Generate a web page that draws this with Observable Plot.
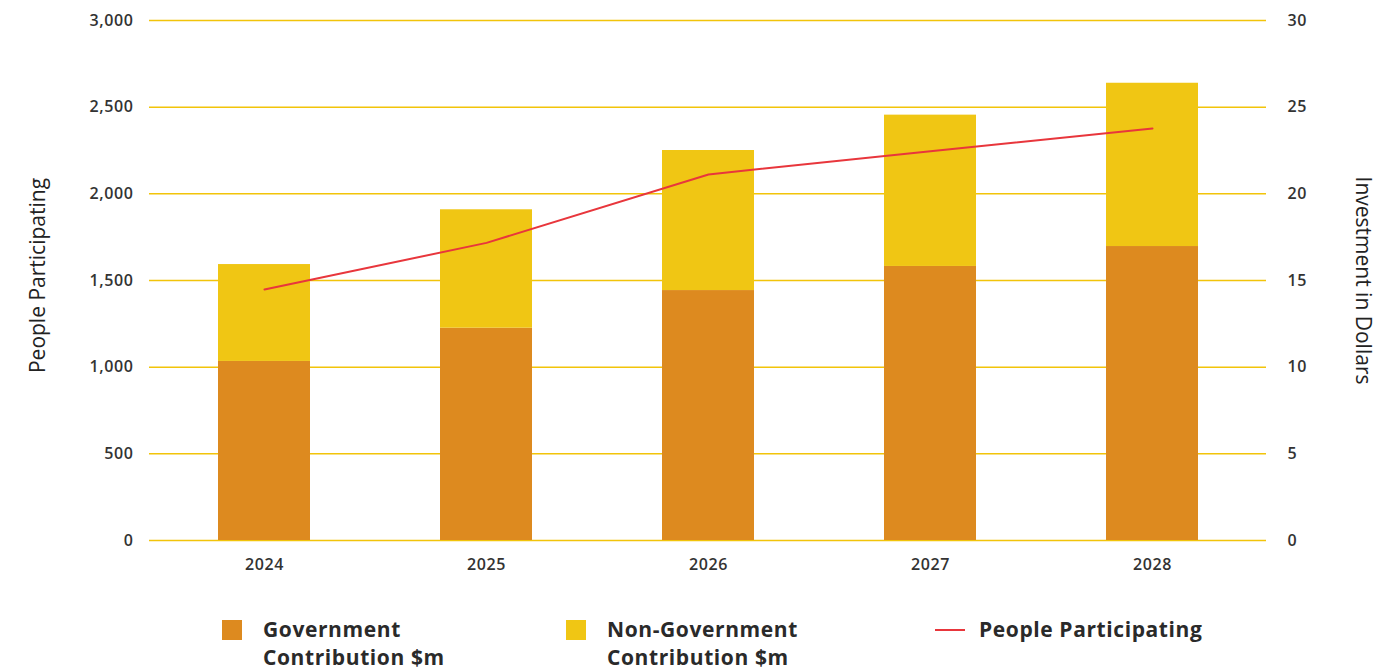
<!DOCTYPE html>
<html><head><meta charset="utf-8">
<script src="https://cdn.jsdelivr.net/npm/d3@7"></script>
<script src="https://cdn.jsdelivr.net/npm/@observablehq/plot@0.6"></script>
<style>
body{margin:0;background:#fff;font-family:"Open Sans",sans-serif;color:#2a2a2a;}
#chart svg{display:block;}
#chart svg g[aria-label="y-axis tick label"] text,
#chart svg g[aria-label="x-axis tick label"] text{letter-spacing:0.6px;}
#legend{position:relative;width:1400px;height:81px;}
.item{position:absolute;top:25px;display:flex;align-items:flex-start;}
.sw{width:20px;height:20px;margin-top:5px;margin-right:21px;}
.ln{width:30px;height:2px;margin-top:14px;margin-right:14px;}
.lab{font-weight:700;font-size:21px;line-height:28px;letter-spacing:0.6px;color:#2a2a2a;}
</style></head><body>
<div id="chart"></div>
<div id="legend"></div>
<script>
const years = ["2024","2025","2026","2027","2028"];
const government = [10.33, 12.25, 14.42, 15.81, 16.96];
const nonGovernment = [5.59, 6.83, 8.08, 8.73, 9.42];
const people = [1448, 1717, 2112, 2246, 2377];
const peopleTicks = [0, 500, 1000, 1500, 2000, 2500, 3000];
const investTicks = [0, 5, 10, 15, 20, 25, 30];
const seriesNames = ["Government Contribution $m", "Non-Government Contribution $m"];
const lineName = "People Participating";
const colors = ["#DD8A1F", "#F0C614"];
const lineColor = "#E8363C";
const gridColor = "#F2C40A";

// right axis (0-30) maps onto left axis (0-3000)
const ratio = peopleTicks[peopleTicks.length - 1] / investTicks[investTicks.length - 1];

const bars = [];
years.forEach((y, i) => {
  bars.push({year: y, series: seriesNames[0], value: government[i]});
  bars.push({year: y, series: seriesNames[1], value: nonGovernment[i]});
});
const lineData = years.map((y, i) => ({year: y, people: people[i]}));

const chart = Plot.plot({
  width: 1400,
  height: 590,
  marginTop: 20,
  marginBottom: 50,
  marginLeft: 149,
  marginRight: 134,
  style: {fontFamily: "'Open Sans', sans-serif", color: "#333", background: "#fff"},
  x: {type: "band", domain: years, paddingInner: 0.586, paddingOuter: 0.3},
  y: {domain: [0, 3000]},
  color: {domain: seriesNames, range: colors},
  marks: [
    Plot.gridY(peopleTicks, {stroke: gridColor, strokeOpacity: 1, strokeWidth: 1.5}),
    Plot.barY(bars, {x: "year", y: d => d.value * ratio, fill: "series"}),
    Plot.line(lineData, {x: "year", y: "people", stroke: lineColor, strokeWidth: 2}),
    Plot.axisY(peopleTicks, {anchor: "left", tickSize: 0, tickPadding: 16, tickFormat: d3.format(","), fontSize: 16, fontWeight: 600, label: null}),
    Plot.axisY(investTicks, {anchor: "right", y: d => d * ratio, text: d => String(d), tickSize: 0, tickPadding: 21, fontSize: 16, fontWeight: 600, label: null}),
    Plot.axisX({anchor: "bottom", tickSize: 0, tickPadding: 18, fontSize: 16, fontWeight: 600, label: null}),
    Plot.text(["People Participating"], {frameAnchor: "left", textAnchor: "middle", dx: -111, dy: -5, rotate: -90, fontSize: 21, fill: "#222"}),
    Plot.text(["Investment in Dollars"], {frameAnchor: "right", textAnchor: "middle", dx: 96, dy: 0, rotate: 90, fontSize: 21, fill: "#222"})
  ]
});
document.getElementById("chart").appendChild(chart);

const legend = document.getElementById("legend");
const items = [
  {left: 222, kind: "sw", color: colors[0], label: "Government<br>Contribution $m"},
  {left: 566, kind: "sw", color: colors[1], label: "Non-Government<br>Contribution $m"},
  {left: 935, kind: "ln", color: lineColor, label: lineName}
];
items.forEach(it => {
  const d = document.createElement("div");
  d.className = "item";
  d.style.left = it.left + "px";
  d.innerHTML = `<div class="${it.kind}" style="background:${it.color}"></div><div class="lab">${it.label}</div>`;
  legend.appendChild(d);
});
</script>
</body></html>
